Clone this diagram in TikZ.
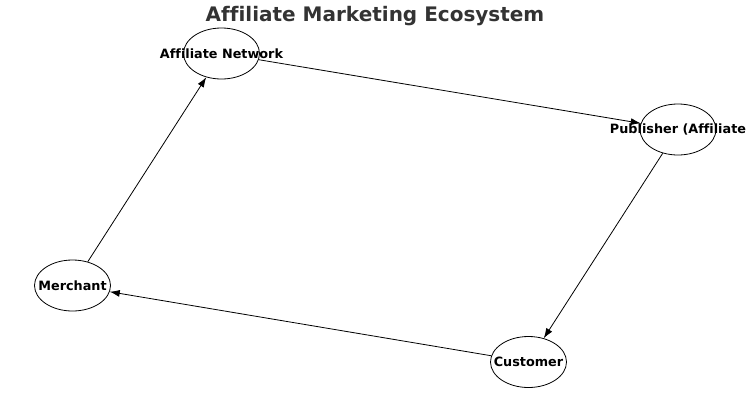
\documentclass[tikz,border=0pt]{standalone}
\usepackage{fontspec}
\setmainfont{DejaVu Sans}[Ligatures=NoCommon]
\usetikzlibrary{arrows.meta,shapes.geometric,positioning}
\definecolor{titlegray}{HTML}{333333}
\tikzset{
  party/.style={ellipse,draw=black,line width=0.8pt,minimum width=76pt,
    minimum height=51pt,inner sep=0pt},
  partytext/.style={font=\fontsize{12.8}{14}\selectfont\bfseries},
  flow/.style={draw=black,line width=0.8pt,-{Latex[length=10pt,width=7pt]}}
}

\begin{document}
\begin{tikzpicture}[x=1pt,y=-1pt]

\useasboundingbox (0,0) rectangle (750,400);

%% title
\node[anchor=base,text=titlegray,font=\fontsize{20}{24}\selectfont\bfseries] (Title) at(375,21) {Affiliate Marketing Ecosystem};

%% parties
\node[party,label={[partytext]center:Affiliate Network}] (Network) at(221.5,53.5) {};
\node[party,label={[partytext]center:Publisher (Affiliate}] (Publisher) at(678,129.5) {};
\node[party,label={[partytext]center:Customer}] (Customer) at(528.5,362) {};
\node[party,label={[partytext]center:Merchant}] (Merchant) at(72.5,285.5) {};

%% flows
\draw[flow] (Network) -- (Publisher);
\draw[flow] (Publisher) -- (Customer);
\draw[flow] (Customer) -- (Merchant);
\draw[flow] (Merchant) -- (Network);

\end{tikzpicture}
\end{document}
